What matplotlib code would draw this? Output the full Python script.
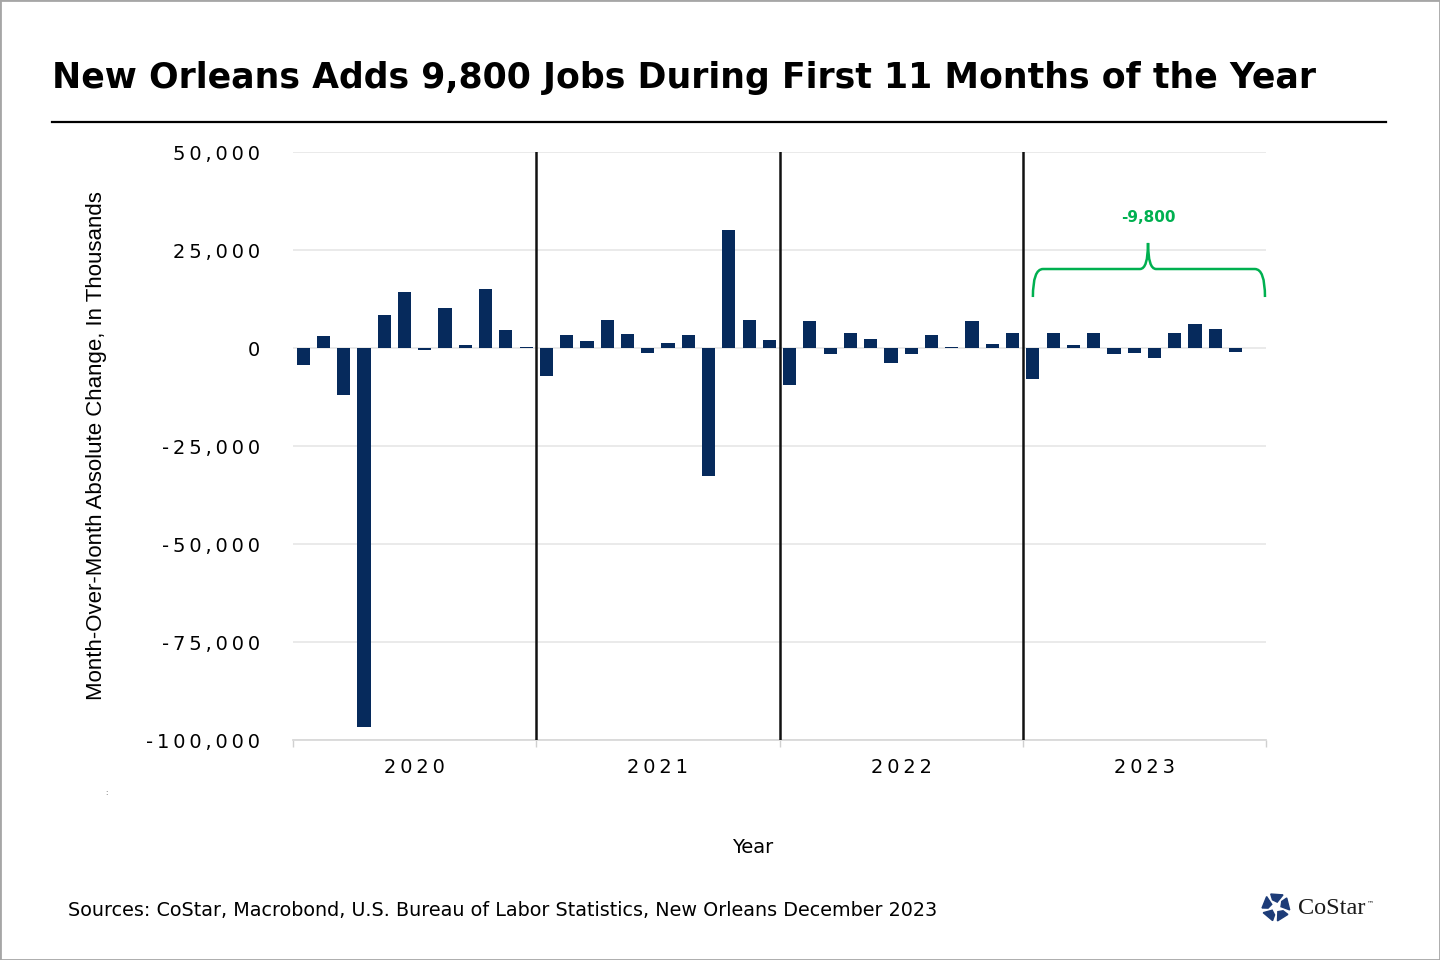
import matplotlib
matplotlib.use("Agg")
import matplotlib.pyplot as plt
from matplotlib.path import Path
from matplotlib.patches import PathPatch, Polygon, Rectangle
from matplotlib.ticker import FuncFormatter
import numpy as np

# monthly change in jobs, Jan 2020 - Nov 2023
jobs_2020 = [-4400, 3000, -11900, -96700, 8400, 14200, -500, 10300, 700, 15100, 4700, 300]
jobs_2021 = [-7100, 3400, 1700, 7200, 3500, -1300, 1400, 3300, -32700, 30100, 7200, 2000]
jobs_2022 = [-9400, 6800, -1500, 3900, 2300, -3800, -1500, 3200, 200, 6900, 1100, 3900]
jobs_2023 = [-7800, 3900, 700, 3900, -1500, -1200, -2600, 3700, 6000, 4900, -1000]
years = ["2020", "2021", "2022", "2023"]
y_ticks = [50000, 25000, 0, -25000, -50000, -75000, -100000]
brace_label = "-9,800"

values = jobs_2020 + jobs_2021 + jobs_2022 + jobs_2023
xpos = np.arange(len(values))

navy = "#062a5c"
green = "#00b050"
plt.rcParams['font.family'] = ['DejaVu Sans']

fig = plt.figure(figsize=(14.4, 9.6), dpi=100)
ax = fig.add_axes([293/1440, 1-740/960, 973/1440, 588/960])

ax.bar(xpos, values, width=0.65, color=navy, zorder=3)

ax.set_xlim(-0.5, 47.5)
ax.set_ylim(-100000, 50000)

# gridlines
ax.set_yticks(y_ticks)
ax.yaxis.set_major_formatter(FuncFormatter(lambda v, p: "\u2009".join(f"{int(v):,}")))
ax.grid(axis="y", color="#e8e8e8", lw=1.3, zorder=0)
ax.tick_params(axis="y", length=0, pad=24, labelsize=14)

# years
ax.set_xticks([5.5, 17.5, 29.5, 41.5])
ax.set_xticklabels(["\u2009".join(y) for y in years])
ax.set_xticks([-0.5, 11.5, 23.5, 35.5, 47.5], minor=True)
ax.tick_params(axis="x", which="major", length=0, pad=13, labelsize=14)
ax.tick_params(axis="x", which="minor", length=5, color="#d0d0d0", width=1)

for s in ["top", "right", "left"]:
    ax.spines[s].set_visible(False)
ax.spines["bottom"].set_color("#d9d9d9")
ax.spines["bottom"].set_linewidth(1.3)

for b in [11.5, 23.5, 35.5]:
    ax.axvline(b, color="#111111", lw=1.8, zorder=4)

ax.set_ylabel("Month-Over-Month Absolute Change, In Thousands",
              family=["Liberation Sans"], fontsize=16, labelpad=28)
ax.set_xlabel("Year", fontsize=14)
ax.xaxis.set_label_coords((753-293)/973, (740-838)/588)

# green brace over 2023
xl, xr, xm = 36.0, 47.45, 41.68
y_end, y_bar, y_tip = 13000, 20150, 26800
verts = [(xl, y_end), (xl, y_bar), (xl + 0.5, y_bar), (xm - 0.4, y_bar),
         (xm, y_bar), (xm, y_tip), (xm, y_bar), (xm + 0.4, y_bar),
         (xr - 0.5, y_bar), (xr, y_bar), (xr, y_end)]
codes = [Path.MOVETO, Path.CURVE3, Path.CURVE3, Path.LINETO,
         Path.CURVE3, Path.CURVE3, Path.CURVE3, Path.CURVE3,
         Path.LINETO, Path.CURVE3, Path.CURVE3]
ax.add_patch(PathPatch(Path(verts, codes), fill=False, edgecolor=green, lw=1.8,
                       zorder=5, clip_on=False))
ax.text(xm, 33400, brace_label, color=green, fontsize=11, fontweight="bold",
        ha="center", va="center")

# title and rule
fig.text(52/1440, 1-78/960, "New Orleans Adds 9,800 Jobs During First 11 Months of the Year",
         fontsize=25, fontweight="bold", ha="left", va="center")
fig.add_artist(plt.Line2D([52/1440, 1386/1440], [1-122/960, 1-122/960], color="black", lw=1.6))

fig.text(68/1440, 1-910/960,
         "Sources: CoStar, Macrobond, U.S. Bureau of Labor Statistics, New Orleans December 2023",
         fontsize=13.8, ha="left", va="center")
fig.text(106/1440, 1-793/960, ":", fontsize=5, color="#555555", ha="center", va="center")

# CoStar logo
cx, cy, W, H = 1276, 907, 1440, 960
for k in range(5):
    a = np.deg2rad(90 + 72*k)
    pts = []
    for r, da in [(5, -14), (14, -30), (14, 22), (8, 26)]:
        t = a + np.deg2rad(da)
        pts.append(((cx + r*np.cos(t))/W, 1 - (cy - r*np.sin(t))/H))
    fig.add_artist(Polygon(pts, closed=True, color="#1d3c78", transform=fig.transFigure))
fig.text(1298/1440, 1-908/960, "CoStar", family=["Liberation Serif"], fontsize=17.5,
         color="#1a1a1a", ha="left", va="center")
fig.text(1367/1440, 1-903/960, "\u2122", fontsize=5, color="#1a1a1a", ha="left", va="center")

# outer frame
fig.add_artist(Rectangle((0, 0), 1, 1, transform=fig.transFigure, fill=False,
                         edgecolor="#a6a6a6", lw=2))

fig.savefig("out.png", dpi=100)
